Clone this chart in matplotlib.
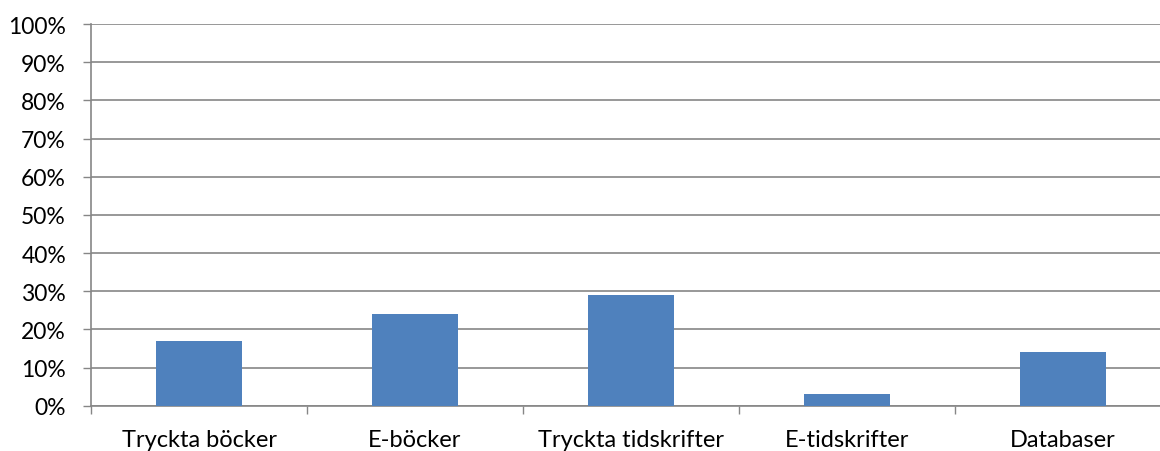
import matplotlib
matplotlib.use("Agg")
import matplotlib.pyplot as plt
from matplotlib.ticker import FixedLocator, PercentFormatter

categories = ["Tryckta böcker", "E-böcker", "Tryckta tidskrifter", "E-tidskrifter", "Databaser"]
values = [17, 24, 29, 3, 14]
yticks = list(range(0, 101, 10))

plt.rcParams['font.family'] = ['Lato', 'DejaVu Sans']

W, H = 11.6, 4.52
fig = plt.figure(figsize=(W, H), dpi=100)
left_px, right_px = 91, 1171
bottom_px, top_px = 406.7, 25
ax = fig.add_axes([left_px / 1160, (452 - bottom_px) / 452,
                   (right_px - left_px) / 1160, (bottom_px - top_px) / 452])

x = list(range(len(categories)))
ax.bar(x, values, width=0.4, color="#4F81BD", zorder=3)

ax.set_xlim(-0.5, len(categories) - 0.5)
ax.set_ylim(0, 100)
ax.set_yticks(yticks)
ax.yaxis.set_major_formatter(PercentFormatter(decimals=0))
ax.grid(axis="y", color="#868686", linewidth=1.2, zorder=0)
ax.set_axisbelow(True)

ax.set_xticks(x)
ax.set_xticklabels(categories)
ax.xaxis.set_minor_locator(FixedLocator([i + 0.5 for i in range(len(categories) - 1)] + [-0.5]))
ax.tick_params(axis="x", which="major", length=0, pad=17, labelsize=17, colors="black")
ax.tick_params(axis="x", which="minor", length=6, width=1, color="#868686")
ax.tick_params(axis="y", length=6, width=1, color="#868686", pad=12, labelsize=16.5, labelcolor="black")

for s in ["top", "right"]:
    ax.spines[s].set_visible(False)
for s in ["left", "bottom"]:
    ax.spines[s].set_color("#868686")
    ax.spines[s].set_linewidth(1.2)

fig.savefig("out.png", dpi=100)
